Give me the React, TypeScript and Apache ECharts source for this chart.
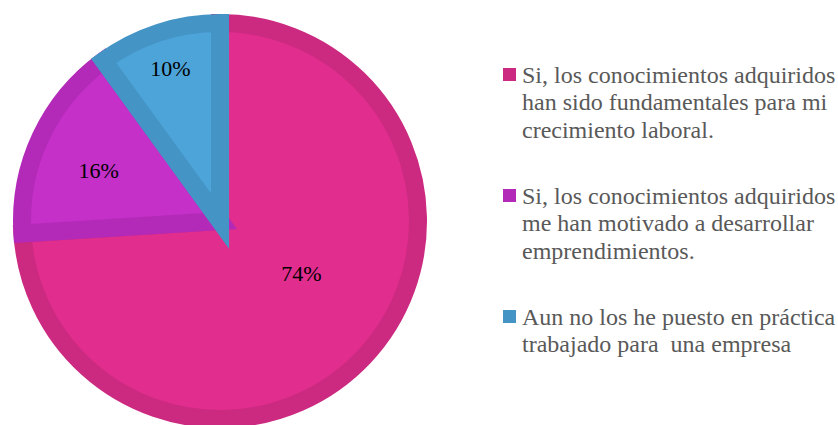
import React, { useEffect, useRef } from "react";
import * as echarts from "echarts";

const categories = [
  "Si, los conocimientos adquiridos han sido fundamentales para mi crecimiento laboral.",
  "Si, los conocimientos adquiridos me han motivado a desarrollar emprendimientos.",
  "Aun no los he puesto en práctica trabajado para  una empresa",
];
const legendLines = [
  ["Si, los conocimientos adquiridos", "han sido fundamentales para mi", "crecimiento laboral."],
  ["Si, los conocimientos adquiridos", "me han motivado a desarrollar", "emprendimientos."],
  ["Aun no los he puesto en práctica", "trabajado para  una empresa"],
];
const values = [74, 16, 10];
const fillColors = ["#E02D8E", "#C430C8", "#4DA4D8"];
const borderColors = ["#CC2A80", "#B42AB8", "#4494C6"];

const SERIF = "'Liberation Serif', 'Times New Roman', Times, serif";

// label nudges (layout only)
const labelShift = [
  [7, -17],
  [-29, -7],
  [-18, -55],
];
const legendFirstLineCenters = [74.5, 195.5, 316.5];
const LEGEND_LINE_H = 27.5;

export default function App() {
  const ref = useRef<HTMLDivElement>(null);
  useEffect(() => {
    if (!ref.current) return;
    const chart = echarts.init(ref.current, undefined, { renderer: "svg" });
    const graphic: any[] = [];
    legendLines.forEach((lines, i) => {
      const c = legendFirstLineCenters[i];
      graphic.push({
        type: "rect",
        shape: { x: 503, y: c - 6.5, width: 13, height: 13 },
        style: { fill: borderColors[i] },
        silent: true,
      });
      graphic.push({
        type: "text",
        x: 522,
        y: c - LEGEND_LINE_H / 2,
        style: {
          text: lines.join("\n"),
          font: `24px ${SERIF}`,
          fontSize: 24,
          fontFamily: SERIF,
          fill: "#595959",
          lineHeight: LEGEND_LINE_H,
          verticalAlign: "top",
          align: "left",
        },
        silent: true,
      });
    });
    chart.setOption({
      animation: false,
      backgroundColor: "#ffffff",
      graphic,
      series: [
        {
          type: "pie",
          center: [220, 221],
          radius: 198,
          startAngle: 90,
          clockwise: true,
          silent: true,
          emphasis: { disabled: true },
          itemStyle: { borderWidth: 18, borderJoin: "miter" },
          label: {
            show: true,
            position: "inside",
            formatter: "{c}%",
            color: "#000000",
            fontSize: 22,
            fontFamily: SERIF,
          },
          labelLine: { show: false },
          labelLayout: (p: any) => ({
            dx: labelShift[p.dataIndex][0],
            dy: labelShift[p.dataIndex][1],
          }),
          data: values.map((v, i) => ({
            value: v,
            name: categories[i],
            itemStyle: { color: fillColors[i], borderColor: borderColors[i] },
          })),
        },
      ],
    });
    return () => chart.dispose();
  }, []);
  return (
    <div
      ref={ref}
      style={{ position: "fixed", left: 0, top: 0, width: 838, height: 425, background: "#fff" }}
    />
  );
}
